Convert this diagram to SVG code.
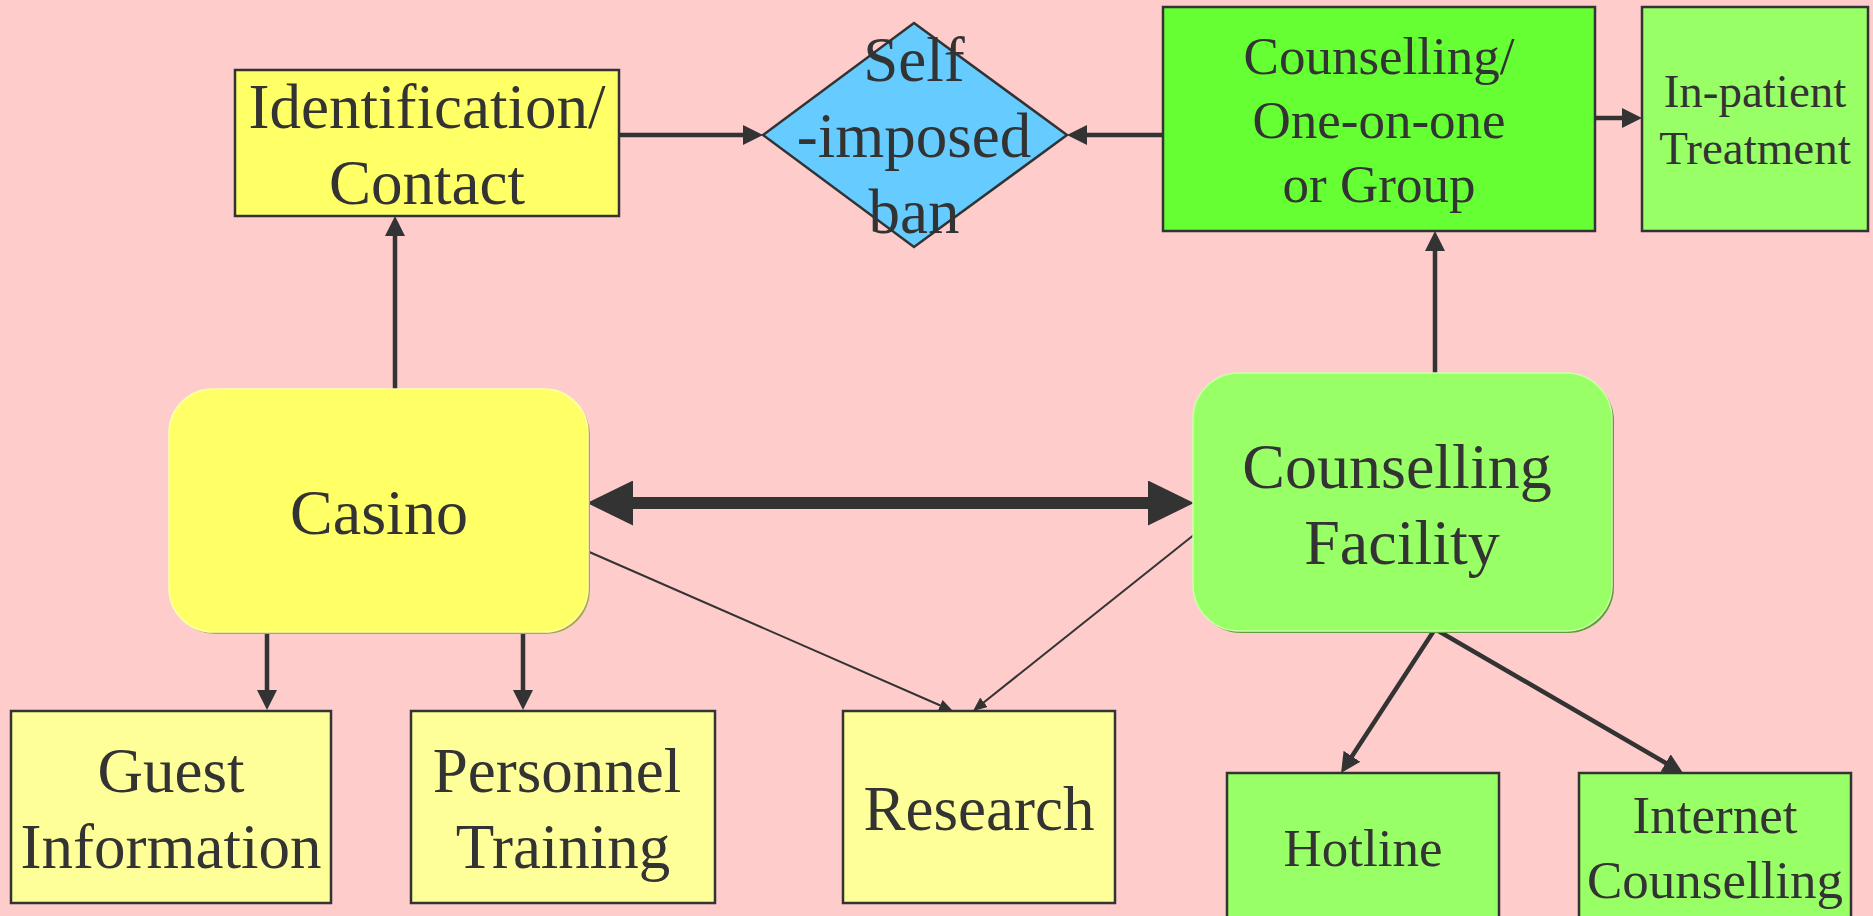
<svg xmlns="http://www.w3.org/2000/svg" width="1873" height="916" viewBox="0 0 1873 916">
<defs>
<style>
.t{font-family:"Liberation Serif","Times New Roman",serif;fill:#333333;text-anchor:middle}
.box{stroke:#333333;stroke-width:2.5}
.c{stroke:#333333;fill:none;stroke-width:4.5}
.thin{stroke:#333333;fill:none;stroke-width:2}
</style>
<marker id="ah" markerUnits="userSpaceOnUse" viewBox="0 0 20 20" markerWidth="20" markerHeight="20" refX="6" refY="10" orient="auto-start-reverse"><path d="M0,0 L20,10 L0,20 z" fill="#333333"/></marker>
<marker id="as" markerUnits="userSpaceOnUse" viewBox="0 0 14 12" markerWidth="14" markerHeight="12" refX="4" refY="6" orient="auto"><path d="M0,0 L14,6 L0,12 z" fill="#333333"/></marker>
<marker id="ab" markerUnits="userSpaceOnUse" viewBox="0 0 46 45" markerWidth="46" markerHeight="45" refX="10" refY="22.5" orient="auto-start-reverse"><path d="M0,0 L46,22.5 L0,45 z" fill="#333333"/></marker>
</defs>
<rect width="1873" height="916" fill="#FFCCCC"/>

<g id="connectors">
<line class="c" x1="395" y1="389" x2="395" y2="230" marker-end="url(#ah)"/>
<line class="c" x1="619" y1="135" x2="749" y2="135" marker-end="url(#ah)"/>
<line class="c" x1="1162" y1="135" x2="1081" y2="135" marker-end="url(#ah)"/>
<line class="c" x1="1595" y1="118" x2="1628" y2="118" marker-end="url(#ah)"/>
<line class="c" x1="1435" y1="373" x2="1435" y2="245" marker-end="url(#ah)"/>
<line class="c" x1="267" y1="632" x2="267" y2="696" marker-end="url(#ah)"/>
<line class="c" x1="523" y1="632" x2="523" y2="696" marker-end="url(#ah)"/>
<line class="thin" x1="587" y1="551" x2="943.8" y2="707" marker-end="url(#as)"/>
<line class="thin" x1="1195" y1="534" x2="980.8" y2="704.8" marker-end="url(#as)"/>
<path class="c" d="M1348.7,761.3 L1435,629 L1670.9,766" marker-start="url(#ah)" marker-end="url(#ah)"/>
<line stroke="#333333" stroke-width="12" x1="623" y1="503" x2="1158" y2="503" marker-start="url(#ab)" marker-end="url(#ab)"/>
</g>

<g id="identification">
<rect class="box" x="235" y="70" width="384" height="146" fill="#FFFF66"/>
<text class="t" font-size="63" x="427" y="128">Identification/</text>
<text class="t" font-size="63" x="427" y="204">Contact</text>
</g>

<g id="ban">
<polygon class="box" points="914,23 1067,135 914,247 763,135" fill="#66CCFF"/>
<text class="t" font-size="63" x="914" y="81">Self</text>
<text class="t" font-size="63" x="914" y="157">-imposed</text>
<text class="t" font-size="63" x="914" y="233">ban</text>
</g>

<g id="counselling-group">
<rect class="box" x="1163" y="7" width="432" height="224" fill="#66FF33"/>
<text class="t" font-size="53" x="1379" y="74">Counselling/</text>
<text class="t" font-size="53" x="1379" y="138">One-on-one</text>
<text class="t" font-size="53" x="1379" y="202">or Group</text>
</g>

<g id="inpatient">
<rect class="box" x="1642" y="7" width="226" height="224" fill="#99FF66"/>
<text class="t" font-size="47" x="1755" y="107">In-patient</text>
<text class="t" font-size="47" x="1755" y="164">Treatment</text>
</g>

<g id="casino">
<rect x="171" y="391" width="419" height="243" rx="44" fill="#A8A845"/>
<rect x="169" y="389" width="419" height="243" rx="44" fill="#FFFF66" stroke="#FFFFAA" stroke-width="1.5"/>
<text class="t" font-size="64" x="379" y="534">Casino</text>
</g>

<g id="facility">
<rect x="1195" y="375" width="419" height="258" rx="46" fill="#5E9E3A"/>
<rect x="1193" y="373" width="419" height="258" rx="46" fill="#99FF66" stroke="#CCFFAA" stroke-width="1.5"/>
<text class="t" font-size="64" x="1397" y="488">Counselling</text>
<text class="t" font-size="64" x="1402" y="564">Facility</text>
</g>

<g id="guest">
<rect class="box" x="11" y="711" width="320" height="192" fill="#FFFF99"/>
<text class="t" font-size="63" x="171" y="792">Guest</text>
<text class="t" font-size="63" x="171" y="868">Information</text>
</g>

<g id="personnel">
<rect class="box" x="411" y="711" width="304" height="192" fill="#FFFF99"/>
<text class="t" font-size="63" x="557" y="792">Personnel</text>
<text class="t" font-size="63" x="563" y="868">Training</text>
</g>

<g id="research">
<rect class="box" x="843" y="711" width="272" height="192" fill="#FFFF99"/>
<text class="t" font-size="63" x="979" y="830">Research</text>
</g>

<g id="hotline">
<rect class="box" x="1227" y="773" width="272" height="160" fill="#99FF66"/>
<text class="t" font-size="53" x="1363" y="866">Hotline</text>
</g>

<g id="internet">
<rect class="box" x="1579" y="773" width="272" height="160" fill="#99FF66"/>
<text class="t" font-size="53" x="1715" y="833">Internet</text>
<text class="t" font-size="53" x="1715" y="898">Counselling</text>
</g>
</svg>
